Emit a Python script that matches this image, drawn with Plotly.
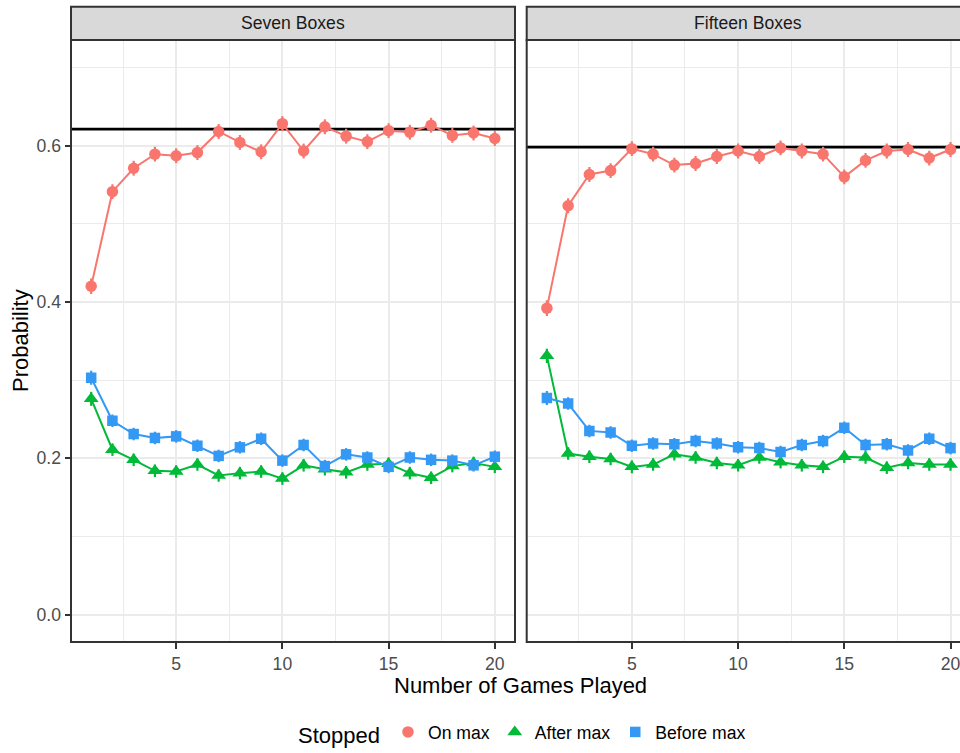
import plotly.graph_objects as go

# ---- data -------------------------------------------------------------
games = list(range(1, 21))
panels = ["Seven Boxes", "Fifteen Boxes"]
stopped = ["On max", "After max", "Before max"]

seven_on_max = [0.420, 0.541, 0.571, 0.589, 0.587, 0.591, 0.618, 0.604, 0.592, 0.628,
                0.593, 0.624, 0.612, 0.605, 0.619, 0.617, 0.626, 0.613, 0.616, 0.609]
seven_after_max = [0.276, 0.211, 0.198, 0.184, 0.183, 0.192, 0.178, 0.181, 0.183, 0.174,
                   0.191, 0.186, 0.182, 0.192, 0.193, 0.181, 0.175, 0.190, 0.194, 0.189]
seven_before_max = [0.303, 0.248, 0.231, 0.226, 0.228, 0.216, 0.203, 0.214, 0.225, 0.197,
                    0.217, 0.190, 0.205, 0.201, 0.189, 0.201, 0.198, 0.197, 0.191, 0.202]

fifteen_on_max = [0.392, 0.523, 0.563, 0.568, 0.596, 0.589, 0.575, 0.577, 0.586, 0.593,
                  0.586, 0.597, 0.593, 0.589, 0.560, 0.581, 0.593, 0.595, 0.584, 0.595]
fifteen_after_max = [0.331, 0.206, 0.202, 0.199, 0.189, 0.192, 0.205, 0.201, 0.194, 0.191,
                     0.201, 0.195, 0.191, 0.189, 0.202, 0.201, 0.188, 0.194, 0.192, 0.192]
fifteen_before_max = [0.277, 0.270, 0.235, 0.233, 0.216, 0.219, 0.218, 0.222, 0.219, 0.214,
                      0.213, 0.208, 0.217, 0.222, 0.239, 0.217, 0.218, 0.210, 0.225, 0.213]

# standard errors (half-length of the vertical ranges)
se_on_max = [0.010, 0.0095, 0.0095, 0.0095, 0.0095, 0.0095, 0.0095, 0.0095, 0.0095, 0.0095,
             0.0095, 0.0095, 0.0095, 0.0095, 0.0095, 0.0095, 0.0095, 0.0095, 0.0095, 0.0095]
se_after_max = [0.009, 0.008, 0.008, 0.008, 0.008, 0.008, 0.008, 0.008, 0.008, 0.008,
                0.008, 0.008, 0.008, 0.008, 0.008, 0.008, 0.008, 0.008, 0.008, 0.008]
se_before_max = [0.009, 0.008, 0.008, 0.008, 0.008, 0.008, 0.008, 0.008, 0.008, 0.008,
                 0.008, 0.008, 0.008, 0.008, 0.008, 0.008, 0.008, 0.008, 0.008, 0.008]

# optimal-strategy success probability per condition
optimal = [0.621, 0.598]

x_ticks = [5, 10, 15, 20]
x_minor = [2.5, 7.5, 12.5, 17.5]
y_ticks = [0.0, 0.2, 0.4, 0.6]
y_minor = [0.1, 0.3, 0.5, 0.7]

values = {
    "Seven Boxes": {"On max": seven_on_max, "After max": seven_after_max,
                    "Before max": seven_before_max},
    "Fifteen Boxes": {"On max": fifteen_on_max, "After max": fifteen_after_max,
                      "Before max": fifteen_before_max},
}
errors = {"On max": se_on_max, "After max": se_after_max, "Before max": se_before_max}

# ---- styles -----------------------------------------------------------
colors = {"On max": "#F8766D", "After max": "#00BA38", "Before max": "#3399F5"}
symbols = {"On max": "circle", "After max": "triangle-up", "Before max": "square"}
sizes = {"On max": 11.5, "After max": 13, "Before max": 10.5}
FONT = "Liberation Sans, Arial, Helvetica, sans-serif"

W, H = 960, 753
ML, MR, MT, MB = 71, 0, 40, 107
plot_w = W - ML - MR
plot_h = H - MT - MB
left_dom = [0.0, 444 / plot_w]
right_dom = [(526.7 - ML) / plot_w, 1.0]
px_per_unit = 444 / 20.9
x_ranges = [[0.05, 20.95],
            [0.05, 0.05 + (right_dom[1] - right_dom[0]) * plot_w / px_per_unit]]

fig = go.Figure()

axis_suffix = ["", "2"]
for p_idx, panel in enumerate(panels):
    xa = "x" + axis_suffix[p_idx]
    ya = "y" + axis_suffix[p_idx]
    # horizontal reference line for the optimal strategy, spanning the panel
    fig.add_trace(go.Scatter(
        x=x_ranges[p_idx], y=[optimal[p_idx], optimal[p_idx]], xaxis=xa, yaxis=ya,
        mode="lines", line=dict(color="black", width=2.7), showlegend=False,
        hoverinfo="skip", cliponaxis=True))
    for s in stopped:
        fig.add_trace(go.Scatter(
            x=games, y=values[panel][s], xaxis=xa, yaxis=ya, mode="lines",
            line=dict(color=colors[s], width=2), showlegend=False,
            legendgroup=s, hoverinfo="skip"))
        fig.add_trace(go.Scatter(
            x=games, y=values[panel][s], xaxis=xa, yaxis=ya, mode="markers",
            marker=dict(color=colors[s], symbol=symbols[s], size=sizes[s],
                        line=dict(width=0)),
            error_y=dict(type="data", array=errors[s], visible=True,
                         color=colors[s], thickness=2.2, width=0),
            name=s, legendgroup=s, showlegend=(p_idx == 0)))

grid_major = "#EBEBEB"
border = "#333333"

common_x = dict(
    tickvals=x_ticks, ticks="outside", ticklen=5.5, tickwidth=1.6, tickcolor=border,
    showgrid=True, gridcolor=grid_major, gridwidth=1.6, zeroline=False,
    minor=dict(tickvals=x_minor, showgrid=True, gridcolor=grid_major, gridwidth=1.0,
               ticks=""),
    tickfont=dict(family=FONT, size=17.6, color="#4D4D4D"),
    ticklabeloverflow="allow",
    showline=False,
)
common_y = dict(
    range=[-0.035, 0.735], tickvals=y_ticks, showgrid=True, gridcolor=grid_major,
    gridwidth=1.6, zeroline=False,
    minor=dict(tickvals=y_minor, showgrid=True, gridcolor=grid_major, gridwidth=1.0,
               ticks=""),
    showline=False,
)

fig.update_layout(
    width=W, height=H,
    margin=dict(l=ML, r=MR, t=MT, b=MB),
    plot_bgcolor="white", paper_bgcolor="white",
    font=dict(family=FONT, color="black"),
    xaxis=dict(domain=left_dom, range=x_ranges[0], anchor="y", **common_x),
    xaxis2=dict(domain=right_dom, range=x_ranges[1], anchor="y2", **common_x),
    yaxis=dict(domain=[0, 1], anchor="x", ticks="outside", ticklen=5.5, tickwidth=1.6,
               tickcolor=border, tickformat=".1f",
               tickfont=dict(family=FONT, size=17.6, color="#4D4D4D"), **common_y),
    yaxis2=dict(domain=[0, 1], anchor="x2", matches="y", showticklabels=False,
                ticks="", **common_y),
    legend=dict(
        orientation="h", x=0.509, xanchor="center", y=-0.152, yanchor="middle",
        title=dict(text="Stopped", font=dict(family=FONT, size=22, color="black"),
                   side="left"),
        font=dict(family=FONT, size=17.6, color="black"),
        itemwidth=30, bgcolor="rgba(0,0,0,0)", traceorder="normal",
    ),
)

shapes = []
annotations = []
strip_h = 33.5 / plot_h
for p_idx, panel in enumerate(panels):
    xd = "x" + axis_suffix[p_idx] + " domain"
    yd = "y" + axis_suffix[p_idx] + " domain"
    x_end = 1.0 if p_idx == 0 else 1.05
    # panel border
    shapes.append(dict(type="rect", xref=xd, yref=yd, x0=0, x1=x_end, y0=0, y1=1,
                       line=dict(color=border, width=2), fillcolor="rgba(0,0,0,0)",
                       layer="above"))
    # strip header
    shapes.append(dict(type="rect", xref=xd, yref=yd, x0=0, x1=x_end, y0=1,
                       y1=1 + strip_h, line=dict(color=border, width=2),
                       fillcolor="#D9D9D9", layer="above"))
    annotations.append(dict(
        text=panel, xref=xd, yref=yd, x=0.5 if p_idx == 0 else 0.51,
        y=1 + strip_h / 2, showarrow=False, xanchor="center", yanchor="middle",
        font=dict(family=FONT, size=17.6, color="#1A1A1A")))

annotations.append(dict(
    text="Number of Games Played", xref="paper", yref="paper",
    x=(520 - ML) / plot_w, y=(646 - 690) / plot_h, showarrow=False,
    xanchor="center", yanchor="middle", font=dict(family=FONT, size=22, color="black")))
annotations.append(dict(
    text="Probability", xref="paper", yref="paper", x=(20 - ML) / plot_w,
    y=0.5, showarrow=False, textangle=-90, xanchor="center", yanchor="middle",
    font=dict(family=FONT, size=22, color="black")))

fig.update_layout(shapes=shapes, annotations=annotations)

fig.write_html("out.html")
